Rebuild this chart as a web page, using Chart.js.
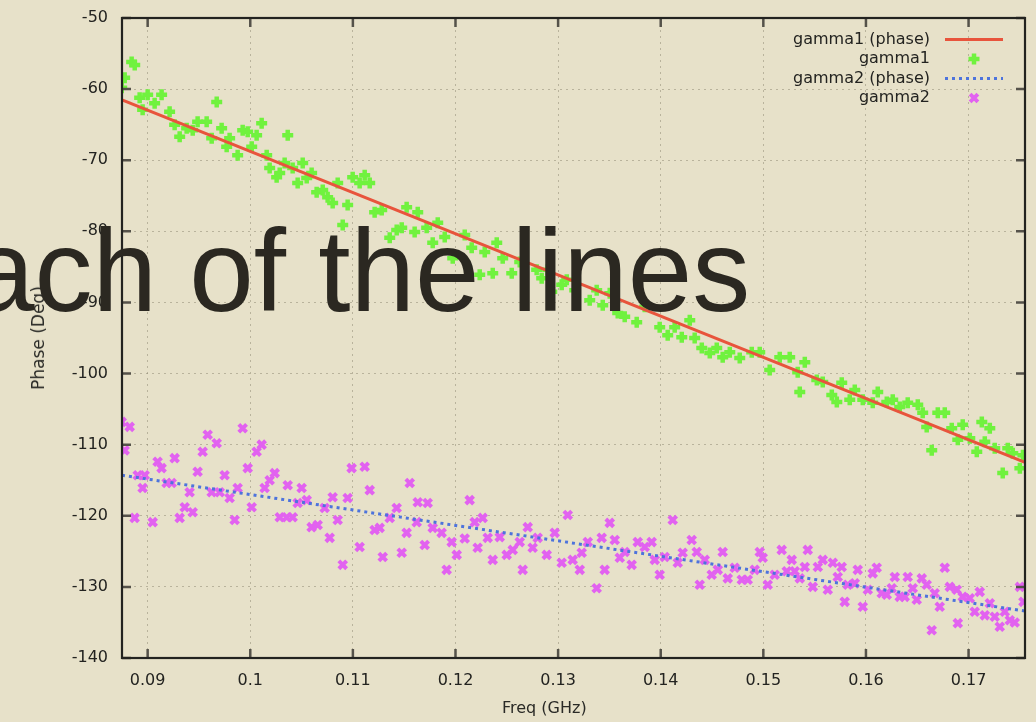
<!DOCTYPE html>
<html>
<head>
<meta charset="utf-8">
<script src="https://cdn.jsdelivr.net/npm/chart.js@4/dist/chart.umd.min.js"></script>
<style>
  html, body { margin: 0; padding: 0; background: #e7e1c9; }
  #wrap { position: relative; width: 1036px; height: 722px; overflow: hidden; background: #e7e1c9; }
  canvas { position: absolute; left: 0; top: 0; }
  .axis-title { position: absolute; font-family: "DejaVu Sans", sans-serif; font-size: 16px; color: #2a2a26; white-space: nowrap; line-height: 18px; }
  #xTitle { left: 502px; top: 699px; }
  #yTitle { left: 38px; top: 338px; transform: translate(-50%, -50%) rotate(-90deg); font-size: 17px; }
  #headline { position: absolute; left: -30px; top: 213px; font-family: "Liberation Sans", Arial, sans-serif; font-size: 116px; line-height: 116px; color: #2b2821; white-space: nowrap; }
</style>
</head>
<body>
<div id="wrap">
  <canvas id="chart" width="1036" height="722"></canvas>
  <div class="axis-title" id="xTitle">Freq (GHz)</div>
  <div class="axis-title" id="yTitle">Phase (Deg)</div>
  <div id="headline">ach of the lines</div>
</div>
<script>
// Axis ticks
const xTickValues = [0.09, 0.10, 0.11, 0.12, 0.13, 0.14, 0.15, 0.16, 0.17];
const xTickLabels = ['0.09', '0.1', '0.11', '0.12', '0.13', '0.14', '0.15', '0.16', '0.17'];
const yTickValues = [-140, -130, -120, -110, -100, -90, -80, -70, -60, -50];
const xRange = [0.0875, 0.1755];
const yRange = [-140, -50];

// Fitted phase lines (end points)
const fitFreq   = [0.0875, 0.1755];
const gamma1Fit = [-61.5, -112.5];
const gamma2Fit = [-114.3, -133.4];

// Measured gamma1 phase
const gamma1Freq = [
  0.08844, 0.08874, 0.08776, 0.08747, 0.08922, 0.09000, 0.09136, 0.09068, 0.08951, 0.09214,
  0.09263, 0.09312, 0.09380, 0.09439, 0.09487, 0.09575, 0.09624, 0.09673, 0.09721, 0.09770,
  0.09799, 0.09877, 0.09926, 0.09975, 0.10014, 0.10062, 0.10111, 0.10160, 0.10189, 0.10257,
  0.10287, 0.10335, 0.10365, 0.10413, 0.10462, 0.10511, 0.10550, 0.10598, 0.10647, 0.10706,
  0.10754, 0.10803, 0.10852, 0.10901, 0.10949, 0.10998, 0.11066, 0.11115, 0.11164, 0.11212,
  0.11281, 0.11359, 0.11427, 0.11476, 0.11524, 0.11602, 0.11632, 0.11719, 0.11778, 0.11827,
  0.11895, 0.11973, 0.12090, 0.12158, 0.12236, 0.12285, 0.12363, 0.12402, 0.12460, 0.12548,
  0.12626, 0.12791, 0.12840, 0.12899, 0.12938, 0.13035, 0.13084, 0.13162, 0.13308, 0.13376,
  0.13435, 0.13503, 0.13581, 0.13649, 0.13766, 0.13844, 0.13990, 0.14068, 0.14136, 0.14205,
  0.14283, 0.14331, 0.14400, 0.14478, 0.14546, 0.14604, 0.14673, 0.14770, 0.14887, 0.14965,
  0.15062, 0.15160, 0.15257, 0.15335, 0.15404, 0.15355, 0.15521, 0.15579, 0.15667, 0.15716,
  0.15764, 0.15842, 0.15891, 0.15969, 0.16066, 0.16115, 0.16203, 0.16261, 0.16329, 0.16407,
  0.16505, 0.16553, 0.16592, 0.16641, 0.16700, 0.16768, 0.16836, 0.16895, 0.16943, 0.17012,
  0.17080, 0.17129, 0.17207, 0.17158, 0.17255, 0.17333, 0.17382, 0.17431, 0.17500, 0.17530
];
const gamma1Phase = [
  -56.2, -56.6, -58.4, -59.8, -61.2, -60.8, -60.8, -62.0, -62.9, -63.2,
  -65.0, -66.7, -65.5, -65.8, -64.6, -64.6, -66.9, -61.8, -65.5, -68.1,
  -66.9, -69.3, -65.8, -66.0, -68.1, -66.5, -64.8, -69.3, -71.1, -72.4,
  -71.8, -70.4, -66.5, -71.1, -73.2, -70.4, -72.5, -71.8, -74.5, -74.2,
  -75.2, -76.0, -73.2, -79.1, -76.3, -72.4, -73.2, -72.1, -73.2, -77.3,
  -77.0, -80.9, -79.8, -79.5, -76.6, -80.1, -77.3, -79.5, -81.6, -78.8,
  -80.8, -83.8, -80.5, -82.3, -86.1, -82.9, -85.9, -81.6, -83.8, -85.9,
  -84.3, -85.4, -86.6, -85.4, -88.5, -87.5, -86.8, -88.3, -89.7, -88.3,
  -90.4, -88.7, -91.5, -92.0, -92.8, -90.6, -93.5, -94.6, -93.5, -94.9,
  -92.5, -95.0, -96.4, -97.1, -96.4, -97.7, -97.0, -97.8, -97.0, -97.0,
  -99.5, -97.7, -97.7, -99.8, -98.4, -102.6, -100.9, -101.2, -103.0, -104.0,
  -101.3, -103.7, -102.3, -103.7, -104.1, -102.6, -104.0, -103.7, -104.7, -104.1,
  -104.4, -105.5, -107.5, -110.8, -105.5, -105.5, -107.7, -109.3, -107.2, -109.1,
  -111.0, -106.8, -107.7, -109.6, -110.5, -114.0, -110.5, -111.2, -113.3, -111.5
];

// Measured gamma2 phase
const gamma2Freq = [
  0.08747, 0.08825, 0.08776, 0.08873, 0.08903, 0.08971, 0.08951, 0.09049, 0.09097, 0.09136,
  0.09185, 0.09234, 0.09263, 0.09312, 0.09361, 0.09409, 0.09439, 0.09487, 0.09536, 0.09585,
  0.09624, 0.09673, 0.09702, 0.09750, 0.09799, 0.09848, 0.09877, 0.09926, 0.09975, 0.10014,
  0.10062, 0.10111, 0.10140, 0.10189, 0.10238, 0.10287, 0.10355, 0.10413, 0.10365, 0.10462,
  0.10501, 0.10550, 0.10598, 0.10657, 0.10725, 0.10774, 0.10803, 0.10852, 0.10901, 0.10949,
  0.10988, 0.11066, 0.11115, 0.11164, 0.11212, 0.11261, 0.11291, 0.11359, 0.11427, 0.11476,
  0.11524, 0.11554, 0.11622, 0.11632, 0.11729, 0.11700, 0.11778, 0.11865, 0.11914, 0.11963,
  0.12012, 0.12090, 0.12138, 0.12187, 0.12216, 0.12265, 0.12314, 0.12363, 0.12431, 0.12499,
  0.12558, 0.12626, 0.12655, 0.12704, 0.12752, 0.12801, 0.12889, 0.12967, 0.13035, 0.13094,
  0.13142, 0.13211, 0.13230, 0.13289, 0.13376, 0.13425, 0.13454, 0.13503, 0.13552, 0.13601,
  0.13649, 0.13717, 0.13776, 0.13844, 0.13912, 0.13942, 0.13990, 0.14039, 0.14117, 0.14166,
  0.14214, 0.14302, 0.14351, 0.14380, 0.14429, 0.14497, 0.14556, 0.14604, 0.14653, 0.14721,
  0.14790, 0.14848, 0.14916, 0.14965, 0.14994, 0.15043, 0.15111, 0.15179, 0.15228, 0.15277,
  0.15306, 0.15355, 0.15404, 0.15433, 0.15482, 0.15531, 0.15579, 0.15628, 0.15677, 0.15725,
  0.15764, 0.15793, 0.15823, 0.15891, 0.15920, 0.15969, 0.16018, 0.16066, 0.16105, 0.16154,
  0.16203, 0.16251, 0.16281, 0.16329, 0.16378, 0.16407, 0.16456, 0.16495, 0.16544, 0.16592,
  0.16641, 0.16670, 0.16719, 0.16768, 0.16817, 0.16885, 0.16895, 0.16943, 0.17012, 0.17060,
  0.17109, 0.17158, 0.17207, 0.17255, 0.17304, 0.17353, 0.17402, 0.17450, 0.17500, 0.17535
];
const gamma2Phase = [
  -106.8, -107.5, -110.8, -120.3, -114.3, -114.3, -116.1, -120.9, -112.4, -113.3,
  -115.4, -115.4, -111.9, -120.3, -118.8, -116.7, -119.5, -113.8, -111.0, -108.6,
  -116.7, -109.8, -116.7, -114.3, -117.5, -120.6, -116.1, -107.7, -113.3, -118.8,
  -111.0, -110.0, -116.1, -115.0, -114.0, -120.2, -120.2, -120.2, -115.7, -118.2,
  -116.1, -117.8, -121.6, -121.3, -118.9, -123.1, -117.4, -120.6, -126.9, -117.5,
  -113.3, -124.4, -113.1, -116.4, -122.0, -121.7, -125.8, -120.3, -118.9, -125.2,
  -122.4, -115.4, -120.9, -118.1, -118.2, -124.1, -121.7, -122.4, -127.6, -123.7,
  -125.5, -123.2, -117.8, -120.9, -124.5, -120.3, -123.1, -126.2, -123.0, -125.5,
  -124.8, -123.7, -127.6, -121.6, -124.5, -123.1, -125.5, -122.4, -126.6, -119.9,
  -126.2, -127.6, -125.2, -123.7, -130.2, -123.1, -127.6, -121.0, -123.4, -125.9,
  -125.1, -126.9, -123.7, -124.4, -123.7, -126.2, -128.3, -125.8, -120.6, -126.6,
  -125.2, -123.4, -125.1, -129.7, -126.2, -128.3, -127.6, -125.1, -128.8, -127.3,
  -129.0, -129.0, -127.6, -125.1, -125.9, -129.7, -128.3, -124.8, -127.8, -126.2,
  -127.8, -128.8, -127.2, -124.8, -130.0, -127.2, -126.2, -130.4, -126.6, -128.6,
  -127.2, -132.1, -129.7, -129.5, -127.6, -132.8, -130.4, -128.1, -127.3, -130.9,
  -131.1, -130.2, -128.6, -131.4, -131.4, -128.6, -130.2, -131.8, -128.8, -129.7,
  -136.1, -130.9, -132.8, -127.3, -130.0, -130.4, -135.1, -131.4, -131.6, -133.5,
  -130.7, -134.0, -132.3, -134.2, -135.6, -133.5, -134.7, -135.0, -130.0, -132.1
];

const toPoints = (xs, ys) => xs.map((x, i) => ({ x: x, y: ys[i] }));

const INK = '#232320';
const GRID = 'rgba(140,134,112,0.5)';

// Frame, inward ticks on all four sides, and the key in the upper right
const framePlugin = {
  id: 'frame',
  afterDatasetsDraw(chart) {
    const { ctx, chartArea: a, scales } = chart;
    ctx.save();
    ctx.strokeStyle = '#55524a';
    ctx.lineWidth = 2.5;
    const tl = 9;
    scales.x.ticks.forEach(t => {
      const px = scales.x.getPixelForValue(t.value);
      ctx.beginPath();
      ctx.moveTo(px, a.bottom); ctx.lineTo(px, a.bottom - tl);
      ctx.moveTo(px, a.top); ctx.lineTo(px, a.top + tl);
      ctx.stroke();
    });
    scales.y.ticks.forEach(t => {
      const py = scales.y.getPixelForValue(t.value);
      ctx.beginPath();
      ctx.moveTo(a.left, py); ctx.lineTo(a.left + tl, py);
      ctx.moveTo(a.right, py); ctx.lineTo(a.right - tl, py);
      ctx.stroke();
    });
    ctx.strokeStyle = INK;
    ctx.lineWidth = 2.2;
    ctx.strokeRect(a.left, a.top, a.right - a.left, a.bottom - a.top);

    // key
    ctx.font = '16px "DejaVu Sans"';
    ctx.textAlign = 'right';
    ctx.textBaseline = 'middle';
    const textRight = a.right - 95;
    const s0 = a.right - 80, s1 = a.right - 22;
    chart.data.datasets.forEach((ds, i) => {
      const y = a.top + 21.5 + i * 19.5;
      ctx.fillStyle = INK;
      ctx.fillText(ds.label, textRight, y);
      ctx.save();
      ctx.strokeStyle = ds.borderColor;
      ctx.lineWidth = ds.borderWidth;
      if (ds.showLine) {
        ctx.setLineDash(ds.borderDash || []);
        ctx.beginPath();
        ctx.moveTo(s0, y); ctx.lineTo(s1, y);
        ctx.stroke();
      } else {
        ctx.fillStyle = ds.backgroundColor;
        Chart.helpers.drawPoint(ctx, { pointStyle: ds.pointStyle, radius: ds.pointRadius, rotation: 0, borderWidth: ds.borderWidth }, (s0 + s1) / 2, y);
      }
      ctx.restore();
    });
    ctx.restore();
  }
};

Chart.defaults.font.family = '"DejaVu Sans", sans-serif';
Chart.defaults.font.size = 16;
Chart.defaults.color = INK;

new Chart(document.getElementById('chart'), {
  type: 'scatter',
  data: {
    datasets: [
      {
        label: 'gamma1 (phase)',
        data: toPoints(fitFreq, gamma1Fit),
        showLine: true,
        borderColor: '#e8543c',
        borderWidth: 3,
        pointRadius: 0,
        order: 0
      },
      {
        label: 'gamma1',
        data: toPoints(gamma1Freq, gamma1Phase),
        showLine: false,
        pointStyle: 'cross',
        pointRadius: 5.5,
        borderWidth: 4.5,
        borderColor: '#70f23e',
        backgroundColor: '#70f23e',
        order: 1
      },
      {
        label: 'gamma2 (phase)',
        data: toPoints(fitFreq, gamma2Fit),
        showLine: true,
        borderColor: '#4d73dc',
        borderWidth: 3,
        borderDash: [3, 4],
        pointRadius: 0,
        order: 0
      },
      {
        label: 'gamma2',
        data: toPoints(gamma2Freq, gamma2Phase),
        showLine: false,
        pointStyle: 'crossRot',
        pointRadius: 5.5,
        borderWidth: 4,
        borderColor: '#e262f0',
        backgroundColor: '#e262f0',
        order: 1
      }
    ]
  },
  options: {
    responsive: false,
    animation: false,
    events: [],
    layout: { padding: { left: 0, right: 11, top: 18, bottom: 0 } },
    plugins: { legend: { display: false }, tooltip: { enabled: false } },
    scales: {
      x: {
        type: 'linear',
        min: xRange[0],
        max: xRange[1],
        afterBuildTicks: s => { s.ticks = xTickValues.map(v => ({ value: v })); },
        afterFit: s => { s.height = 64; s.paddingLeft = 0; s.paddingRight = 0; },
        ticks: {
          padding: 13,
          autoSkip: false,
          maxRotation: 0,
          callback: (v, i) => xTickLabels[i]
        },
        grid: { color: GRID, lineWidth: 1, drawTicks: false },
        border: { display: false, dash: [2, 4] }
      },
      y: {
        type: 'linear',
        min: yRange[0],
        max: yRange[1],
        afterBuildTicks: s => { s.ticks = yTickValues.map(v => ({ value: v })); },
        afterFit: s => { s.width = 122; s.paddingTop = 0; s.paddingBottom = 0; },
        ticks: { padding: 14, autoSkip: false, callback: v => String(v) },
        grid: { color: GRID, lineWidth: 1, drawTicks: false },
        border: { display: false, dash: [2, 4] }
      }
    }
  },
  plugins: [framePlugin]
});
</script>
</body>
</html>
